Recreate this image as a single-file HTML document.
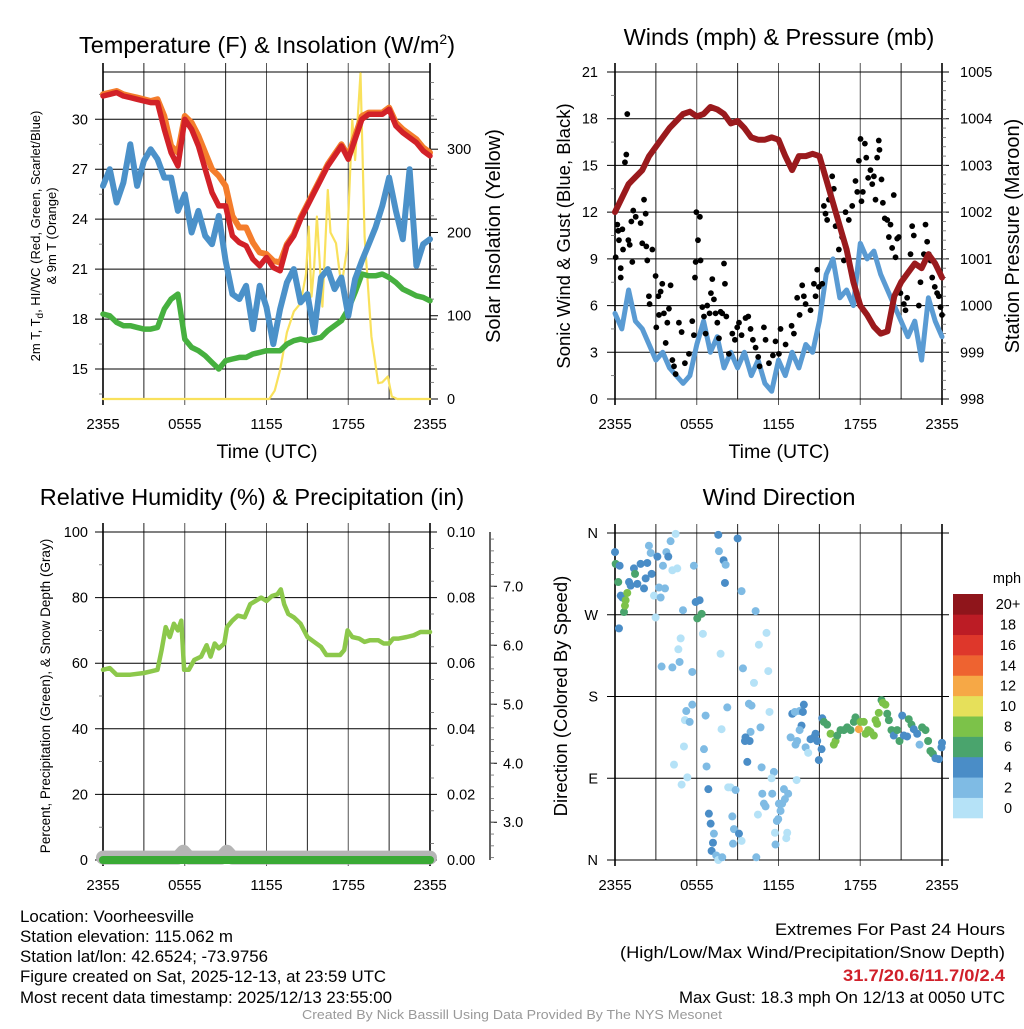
<!DOCTYPE html>
<html><head><meta charset="utf-8"><title>Mesonet Meteogram - Voorheesville</title>
<style>
html,body{margin:0;padding:0;background:#fff;}
body{width:1024px;height:1024px;overflow:hidden;font-family:"Liberation Sans",Arial,sans-serif;}
svg text{font-family:"Liberation Sans",Arial,sans-serif;}
</style></head>
<body>
<svg id="svg" width="1024" height="1024" viewBox="0 0 1024 1024" xmlns="http://www.w3.org/2000/svg">
<rect x="0" y="0" width="1024" height="1024" fill="#fff"/>
<g id="g-tl"></g>
<g id="g-tr"></g>
<g id="g-bl"></g>
<g id="g-br"></g>
<g font-size="17" fill="#000">
<text x="20" y="922" textLength="174" lengthAdjust="spacingAndGlyphs">Location: Voorheesville</text>
<text x="20" y="942" textLength="213" lengthAdjust="spacingAndGlyphs">Station elevation: 115.062 m</text>
<text x="20" y="962" textLength="248" lengthAdjust="spacingAndGlyphs">Station lat/lon: 42.6524; -73.9756</text>
<text x="20" y="982" textLength="366" lengthAdjust="spacingAndGlyphs">Figure created on Sat, 2025-12-13, at 23:59 UTC</text>
<text x="20" y="1003" textLength="372" lengthAdjust="spacingAndGlyphs">Most recent data timestamp: 2025/12/13 23:55:00</text>
<text x="775" y="935" textLength="230" lengthAdjust="spacingAndGlyphs">Extremes For Past 24 Hours</text>
<text x="620" y="958" textLength="385" lengthAdjust="spacingAndGlyphs">(High/Low/Max Wind/Precipitation/Snow Depth)</text>
<text x="843" y="981" textLength="162" lengthAdjust="spacingAndGlyphs" fill="#d0202a" font-weight="bold">31.7/20.6/11.7/0/2.4</text>
<text x="679" y="1003" textLength="326" lengthAdjust="spacingAndGlyphs">Max Gust: 18.3 mph On 12/13 at 0050 UTC</text>
<text x="302" y="1019" font-size="13" textLength="420" lengthAdjust="spacingAndGlyphs" fill="#999">Created By Nick Bassill Using Data Provided By The NYS Mesonet</text>
</g>
</svg>
<script>
// ---------- DATA ----------
const xTickLabels = ["2355","0555","1155","1755","2355"];
const halfHours = [0,0.5,1,1.5,2,2.5,3,3.5,4,4.5,5,5.5,6,6.5,7,7.5,8,8.5,9,9.5,10,10.5,11,11.5,12,12.5,13,13.5,14,14.5,15,15.5,16,16.5,17,17.5,18,18.5,19,19.5,20,20.5,21,21.5,22,22.5,23,23.5,24];
const tempRed = [31.4,31.5,31.6,31.4,31.3,31.2,31.1,31.0,31.0,29.4,28.0,27.2,30.0,29.4,28.4,27.0,25.6,24.8,24.8,23.0,22.6,22.4,21.6,21.2,21.7,21.1,20.9,22.4,23.0,24.0,24.8,25.6,26.4,27.2,27.8,28.4,27.6,28.8,30.0,30.3,30.3,30.3,30.6,29.6,29.2,28.9,28.6,28.1,27.8];
const tempOrange = [31.5,31.6,31.7,31.5,31.4,31.3,31.2,31.1,31.2,30.2,28.4,28.0,30.2,29.8,29.0,28.0,27.0,26.6,26.0,24.2,23.5,23.5,22.6,22.0,21.9,21.5,21.4,22.5,23.1,24.1,24.9,25.7,26.5,27.3,27.9,28.5,27.8,29.0,30.2,30.4,30.4,30.4,30.7,29.8,29.4,29.1,28.8,28.3,28.0];
const tempBlue = [26.0,27.0,25.0,26.2,28.5,26.0,27.5,28.2,27.6,26.5,26.5,24.5,25.5,23.2,24.5,23.0,22.5,24.2,21.5,19.5,19.2,20.0,17.4,20.0,18.7,16.5,18.6,20.2,21.0,19.0,19.5,17.2,20.5,21.0,19.8,20.5,18.2,20.4,21.5,22.5,23.5,24.8,26.5,24.5,22.8,27.0,21.2,22.5,22.8];
const tempGreen = [18.3,18.2,17.8,17.6,17.6,17.5,17.4,17.4,17.5,18.6,19.2,19.5,16.8,16.3,16.1,15.8,15.4,15.0,15.5,15.6,15.7,15.7,15.9,16.0,16.1,16.1,16.1,16.5,16.7,16.8,16.7,16.8,16.9,17.3,17.6,17.9,18.6,19.6,20.7,20.6,20.6,20.7,20.5,20.2,19.8,19.6,19.4,19.3,19.1];
const insolHours = [0,12.2,12.6,13,13.5,14,14.5,14.9,15.1,15.3,15.5,15.7,16.1,16.5,16.7,17.1,17.5,17.9,18.3,18.5,18.9,19.2,19.7,20.2,20.5,20.9,21.2,21.6,24];
const insolValues = [0,0,10,35,80,105,115,150,207,123,160,219,111,251,200,187,135,179,335,287,391,195,75,19,20,27,3,0,0];
const tempTicks = [15,18,21,24,27,30];
const insolTicks = [0,100,200,300];

const windBlue = [5.5,4.5,7,5,4.5,3.5,2.5,3,2,1.5,1,1.5,3.5,5,3,4,2,3,2,3,1.5,2.5,1,0.5,2.5,1.5,3,2,3.5,3,5,8,9,6.5,7,6,10,9,9.5,8,7,6,5,4,5,2.5,6.5,5,4];
const pressure = [1002.0,1002.3,1002.6,1002.75,1002.9,1003.2,1003.4,1003.6,1003.8,1003.95,1004.1,1004.15,1004.05,1004.1,1004.25,1004.2,1004.1,1003.9,1003.95,1003.8,1003.6,1003.55,1003.55,1003.6,1003.55,1003.2,1002.9,1003.2,1003.2,1003.25,1003.2,1002.7,1002.2,1001.7,1001.2,1000.5,1000.0,999.8,999.55,999.4,999.45,1000.2,1000.5,1000.7,1000.9,1000.8,1001.1,1000.9,1000.6];
const gustHours = [0.05,0.17,0.24,0.29,0.42,0.42,0.54,0.59,0.73,0.83,0.90,0.98,1.08,1.20,1.27,1.34,1.52,1.88,2.00,2.13,2.25,2.30,2.37,2.49,2.54,2.74,2.98,3.03,3.18,3.23,3.35,3.47,3.59,3.72,3.84,3.96,4.08,4.21,4.33,4.45,4.69,4.89,5.13,5.43,5.67,5.79,5.87,5.92,5.97,6.09,6.23,6.28,6.41,6.53,6.65,6.77,6.94,7.04,7.14,7.26,7.38,7.51,7.63,7.75,7.87,8.00,8.07,8.17,8.36,8.61,8.80,8.97,9.10,9.29,9.58,9.78,9.95,10.12,10.32,10.51,10.61,10.93,11.05,11.30,11.59,11.78,12.03,12.15,12.52,12.96,13.13,13.37,13.55,13.74,13.86,13.99,14.35,14.60,14.72,14.84,14.96,15.21,15.33,15.45,15.57,15.70,15.82,15.94,16.06,16.19,16.31,16.43,16.67,16.80,16.92,17.16,17.41,17.65,17.78,17.90,18.02,18.09,18.19,18.34,18.44,18.58,18.75,18.88,19.00,19.12,19.24,19.36,19.41,19.56,19.66,19.80,19.98,20.10,20.22,20.34,20.46,20.59,20.71,20.83,20.95,21.20,21.32,21.44,21.69,21.81,21.93,22.30,22.42,22.67,22.79,22.91,23.03,23.15,23.28,23.47,23.64,23.77,23.89,24.00];
const gustValues = [9.1,11.2,10.8,10.2,8.4,7.8,10.9,9.6,15.2,15.7,18.3,10.2,9.9,11.4,8.8,12.1,11.7,11.3,10,12.8,11.9,9.8,8.9,6.6,6.1,9.6,7.9,4.6,6.6,5.4,6.9,7.4,5.5,3.6,4.9,5.8,7.3,2.5,2.1,1.6,4.9,4.3,2.3,2.9,5.0,4.1,7.8,8.8,12,10.2,11.7,8.9,5.9,5.3,4.2,6.0,5.5,6.8,7.7,6.4,5.5,4.9,3.9,5.6,5.5,8.7,7.4,5.3,2.9,4.2,3.8,4.6,4.9,4.1,5.2,5.3,4.5,3.8,3.3,2.7,2.1,4.6,3.8,2.3,2.8,3.7,2.9,4.5,3.5,4.7,4.2,6.5,5.4,7.3,6.6,6.1,5.7,7.4,6.6,8.3,7.2,7.4,12.4,11.9,11.5,12.8,13.2,14.3,13.5,11.1,11.7,9.6,10.4,8.9,12.0,11.5,12.4,14.0,13.3,15.3,16.7,12.7,13.3,16.4,15.5,14.2,14.7,13.8,14.3,12.8,15.5,16.6,16.0,14.1,12.6,11.6,11.5,10.4,11.2,9.7,13.1,9.1,10.3,10.4,6.8,6.1,5.7,6.5,9.3,11.1,10.5,6.0,7.5,9.3,11.2,10.1,9.3,8.9,7.8,7.2,6.8,6.6,5.9,5.4];
const windTicks = [0,3,6,9,12,15,18,21];
const pressTicks = [998,999,1000,1001,1002,1003,1004,1005];

const rhHours = [0,0.5,1,2,3,3.5,4,4.3,4.6,4.9,5.2,5.5,5.75,5.95,6.3,6.7,7.2,7.6,7.9,8.2,8.5,8.9,9.1,9.5,9.9,10.4,10.8,11.2,11.6,12,12.4,12.8,13.05,13.3,13.6,14,14.5,15,15.5,16,16.4,16.8,17.4,17.7,17.95,18.3,18.8,19.2,19.6,20.2,20.6,21,21.3,21.7,22.3,22.8,23.3,24];
const rhValues = [58,58.5,56.5,56.5,57,57.5,58,64,71,68,72,70,73,58,58,61,62,65.5,62,66,64.5,66,71,73,74.5,74,78,79,80,79,80.5,81,82.5,78,75,74,72,68,66.5,65,62.5,62.5,62.5,64,70,68,67.5,66.5,67,67,66,66,67.5,67.5,68,68.5,69.5,69.5];
const precipHours = [0,24];
const precipValues = [0,0];
const snowHours = [0,5.5,5.9,6.3,8.7,9.1,9.5,24];
const snowValues = [2.4,2.4,2.5,2.4,2.4,2.5,2.4,2.4];
const rhTicks = [0,20,40,60,80,100];
const precipTicks = ["0.00","0.02","0.04","0.06","0.08","0.10"];
const snowTicks = ["3.0","4.0","5.0","6.0","7.0"];

const dirHours = [0.00,0.05,0.24,0.34,0.42,0.54,0.66,0.73,0.78,0.90,0.29,1.03,1.15,1.39,1.47,1.64,1.88,2.13,2.25,2.37,2.49,2.62,2.69,2.86,2.98,3.11,3.23,3.35,3.52,3.67,3.77,3.91,4.08,4.21,4.45,4.57,4.82,4.65,4.74,3.42,4.21,4.99,5.67,5.79,5.92,6.04,6.21,6.36,6.45,5.67,5.23,5.13,5.48,5.06,4.33,5.31,4.89,6.65,6.53,6.72,6.85,6.89,7.02,7.26,7.19,7.09,7.43,7.58,7.87,7.75,7.82,8.24,7.58,7.63,7.97,8.12,8.07,9.00,9.29,10.32,9.39,10.20,10.56,11.12,11.25,9.83,10.02,9.95,9.58,9.54,9.88,9.71,10.68,10.76,11.34,11.66,11.49,8.31,8.48,8.85,8.61,8.73,9.10,9.29,8.66,10.81,10.93,11.05,10.49,11.54,12.03,12.15,12.40,12.71,12.47,12.27,11.98,11.88,11.74,12.64,12.57,11.78,10.37,13.33,13.01,13.20,13.55,13.86,13.79,13.69,13.55,12.89,13.37,13.25,13.99,14.18,14.35,14.60,14.72,14.84,15.21,15.16,14.96,15.33,15.57,15.82,16.06,16.19,16.31,16.55,16.80,17.04,17.29,17.53,17.65,17.90,18.02,18.26,18.39,18.58,18.75,19.00,19.12,19.24,19.36,19.56,19.66,19.85,19.98,20.10,20.29,20.46,20.71,20.88,21.08,21.20,21.44,21.56,21.76,21.93,22.18,22.35,22.54,22.79,22.98,23.15,23.33,23.52,23.77,23.96,24.00];
const dirDegrees = [339,326,306,324,291,289,273,280,286,294,255,306,302,321,315,304,326,299,310,327,346,338,315,291,267,334,300,289,324,299,339,334,351,319,359,321,244,232,218,213,212,275,207,324,284,266,286,271,249,171,164,154,152,125,105,91,83,159,122,103,78,51,40,29,19,10,5,0,3,227,144,168,358,340,330,325,305,354,296,274,211,195,237,250,208,172,170,141,135,131,131,108,146,102,163,97,90,80,80,77,48,34,29,21,18,73,62,59,50,73,62,54,78,73,67,62,45,43,30,30,24,17,3,88,161,163,164,171,163,148,143,135,131,127,124,118,133,135,139,131,156,122,110,152,149,139,127,131,137,143,143,146,143,152,157,144,152,152,139,143,141,137,154,150,162,176,173,171,161,154,143,137,143,131,159,137,136,155,149,144,139,127,146,143,131,120,117,112,111,124,129];
const dirSpeeds = [5,7,7,5,5,5,7,9,9,9,5,5,5,5,7,5,5,5,5,5,3,3,5,1,1,5,3,3,3,3,3,5,3,1,1,1,1,1,3,3,3,3,3,3,5,7,5,7,1,3,3,1,3,1,1,1,1,3,3,3,5,5,5,3,5,5,3,1,3,1,1,3,5,3,5,3,5,5,3,3,3,1,1,1,1,3,3,3,5,5,5,5,3,3,1,3,1,1,1,3,3,3,5,1,3,3,3,3,1,3,3,3,3,3,3,3,3,3,1,1,1,3,3,1,5,3,3,5,5,5,3,3,3,3,3,1,5,5,5,5,5,5,5,7,7,9,9,9,7,7,7,7,7,7,7,13,9,9,9,9,9,9,9,9,9,7,9,9,7,7,7,5,7,7,5,5,5,7,7,5,5,3,7,7,7,7,7,5,5,5,5];
const dirTickLabels = ["N","E","S","W","N"];
const dirTickDegrees = [0,90,180,270,360];
const speedBinLabels = ["0","2","4","6","8","10","12","14","16","18","20+"];
const speedBinColors = ["#b5e2f7","#7fbbe4","#4a8dc7","#4aa46d","#7cc249","#e6e05a","#f6a846","#ee6330","#de372b","#bc1c25","#8f151b"];

// ---------- HELPERS ----------
const NS = "http://www.w3.org/2000/svg";
function mk(parent, tag, attrs) {
  const e = document.createElementNS(NS, tag);
  for (const k in attrs) e.setAttribute(k, attrs[k]);
  parent.appendChild(e);
  return e;
}
const PL = 103, PR = 430, PW = 327;
function xScale(off) { return function(h) { return off + PL + h / 24 * PW; }; }
function lin(d0, d1, r0, r1) { return function(v) { return r0 + (v - d0) / (d1 - d0) * (r1 - r0); }; }

function drawFrame(g, off, top, bot, name) {
  const xs = xScale(off);
  for (let i = 0; i <= 8; i++) {
    const x = xs(i * 3);
    const l = mk(g, "line", {x1: x, x2: x, y1: top - 9, y2: bot + (i % 2 === 0 ? 6 : 0), stroke: (i === 0 || i === 8) ? "#000" : (i % 2 ? "#222" : "#555"), "stroke-width": (i === 0 || i === 8) ? 1.6 : 1});
    
    
  }
  for (let i = 0; i < xTickLabels.length; i++) {
    const t = mk(g, "text", {x: xs(i * 6), y: bot + 30, "text-anchor": "middle", "font-size": 15});
    t.textContent = xTickLabels[i];
    
    
  }
}
function hGrid(g, off, y, name) {
  const l = mk(g, "line", {x1: off + 95, x2: off + 437, y1: y, y2: y, stroke: "#000", "stroke-width": 1});
  
  
}
function tickLabel(g, x, y, txt, anchor, size, name) {
  const t = mk(g, "text", {x: x, y: y + 5, "text-anchor": anchor, "font-size": size || 14.5});
  t.textContent = txt;
  
  
}
function minor(g, x1, x2, y) {
  const l = mk(g, "line", {x1: x1, x2: x2, y1: y, y2: y, stroke: "#666", "stroke-width": 0.8});
  
  
}
function line(g, xs, ys, hours, vals, color, w, name) {
  const pts = hours.map((h, i) => xs(h).toFixed(1) + "," + ys(vals[i]).toFixed(1)).join(" ");
  const p = mk(g, "polyline", {points: pts, fill: "none", stroke: color, "stroke-width": w, "stroke-linejoin": "round", "stroke-linecap": "round"});
  
  
  return p;
}
function title(g, x, y, txt, size, name, rot) {
  const t = mk(g, "text", {x: x, y: y, "text-anchor": "middle", "font-size": size});
  if (rot) t.setAttribute("transform", "rotate(-90 " + x + " " + y + ")");
  t.innerHTML = txt;
  
  
  return t;
}

// ---------- PANEL TL ----------
(function() {
  const g = document.getElementById("g-tl");
  const top = 72, bot = 399;
  const xs = xScale(0);
  const yT = lin(13.2, 32.84, bot, top);
  const yI = lin(0, 392.7, bot, top);
  drawFrame(g, 0, top, bot, "temp");
  mk(g, "line", {x1: PL, x2: PR, y1: top, y2: top, stroke: "#000"});
  mk(g, "line", {x1: PL, x2: PR, y1: bot, y2: bot, stroke: "#000"});
  tempTicks.forEach(v => { hGrid(g, 0, yT(v), "temp-grid"); tickLabel(g, 88, yT(v), String(v), "end", 14.5, "temp-tick-label"); });
  for (let v = 13.5; v < 32.8; v += 1.5) if (tempTicks.indexOf(v) < 0) minor(g, 99, 103, yT(v));
  insolTicks.forEach(v => { mk(g, "line", {x1: PR, x2: 438, y1: yI(v), y2: yI(v), stroke: "#000"}); tickLabel(g, 447, yI(v), String(v), "start", 14.5, "insolation-tick-label"); });
  for (let v = 20; v < 392; v += 20) if (v % 100) minor(g, PR, 434, yI(v));
  line(g, xs, yI, insolHours, insolValues, "#f9e15c", 2.2, "insolation-line");
  line(g, xs, yT, halfHours, tempGreen, "#46b03f", 5.5, "dewpoint-line");
  line(g, xs, yT, halfHours, tempBlue, "#4b91c9", 6, "windchill-line");
  line(g, xs, yT, halfHours, tempOrange, "#f47d2c", 6, "temp-9m-line");
  line(g, xs, yT, halfHours, tempRed, "#d22128", 5.5, "temp-2m-line");
  title(g, 267, 53, 'Temperature (F) &amp; Insolation (W/m<tspan dy="-9" font-size="14">2</tspan><tspan dy="9">)</tspan>', 23.5, "temp-title");
  title(g, 267, 458, "Time (UTC)", 19.5, "temp-x-title");
  title(g, 40, 236, "2m T, T<tspan font-size='10' dy='3'>d</tspan><tspan dy='-3'>, HI/WC (Red, Green, Scarlet/Blue)</tspan>", 13, "temp-y-title", true);
  title(g, 56, 236, "&amp; 9m T (Orange)", 13, "temp-y-title-2", true);
  title(g, 500, 236, "Solar Insolation (Yellow)", 20, "insolation-y-title", true);
})();

// ---------- PANEL TR ----------
(function() {
  const g = document.getElementById("g-tr");
  const off = 512, top = 72, bot = 399;
  const xs = xScale(off);
  const yW = lin(0, 21, bot, top);
  const yP = lin(998, 1005, bot, top);
  drawFrame(g, off, top, bot, "wind");
  windTicks.forEach(v => { hGrid(g, off, yW(v), "wind-grid"); tickLabel(g, 598, yW(v), String(v), "end", 14.5, "wind-tick-label"); });
  for (let v = 1.5; v < 21; v += 3) minor(g, 611, 615, yW(v));
  pressTicks.forEach(v => tickLabel(g, 960, yP(v), String(v), "start", 14.5, "pressure-tick-label"));
  for (let v = 998.2; v < 1005; v += 0.2) minor(g, off + PR, off + PR + 4, yP(v));
  line(g, xs, yW, halfHours, windBlue, "#5a9bd3", 5, "sonic-wind-line");
  gustHours.forEach((h, i) => {
    const c = mk(g, "circle", {cx: xs(h), cy: yW(gustValues[i]), r: 2.9, fill: "#000"});
    
    
  });
  line(g, xs, yP, halfHours, pressure, "#9a1a1d", 6, "pressure-line");
  title(g, 779, 45, "Winds (mph) &amp; Pressure (mb)", 23.5, "wind-title");
  title(g, 779, 458, "Time (UTC)", 19.5, "wind-x-title");
  title(g, 570, 236, "Sonic Wind &amp; Gust (Blue, Black)", 18.5, "wind-y-title", true);
  title(g, 1019, 236, "Station Pressure (Maroon)", 20, "pressure-y-title", true);
})();

// ---------- PANEL BL ----------
(function() {
  const g = document.getElementById("g-bl");
  const top = 532, bot = 860;
  const xs = xScale(0);
  const yR = lin(0, 100, bot, top);
  const yS = lin(2.36, 7.92, bot, top);
  drawFrame(g, 0, top, bot, "rh");
  rhTicks.forEach(v => { hGrid(g, 0, yR(v), "rh-grid"); tickLabel(g, 88, yR(v), String(v), "end", 14.5, "rh-tick-label"); });
  for (let v = 10; v < 100; v += 20) minor(g, 99, 103, yR(v));
  precipTicks.forEach((t, i) => tickLabel(g, 447, yR(i * 20), t, "start", 14.5, "precip-tick-label"));
  for (let v = 5; v < 100; v += 10) minor(g, PR, 434, yR(v));
  mk(g, "line", {x1: 490, x2: 490, y1: top, y2: bot, stroke: "#000", "stroke-width": 1.2});
  snowTicks.forEach(t => { const v = parseFloat(t); mk(g, "line", {x1: 490, x2: 497, y1: yS(v), y2: yS(v), stroke: "#000"}); tickLabel(g, 503, yS(v), t, "start", 14.5, "snow-tick-label"); });
  for (let v = 2.4; v < 7.9; v += 0.2) minor(g, 490, 494, yS(v));
  line(g, xs, yR, rhHours, rhValues, "#8cc84b", 4.5, "rh-line");
  line(g, xs, yS, snowHours, snowValues, "#b5b5b5", 14, "snow-depth-line");
  line(g, xs, yR, precipHours, precipValues, "#3aaa35", 8, "precip-line");
  title(g, 252, 505, "Relative Humidity (%) &amp; Precipitation (in)", 23.5, "rh-title");
  title(g, 50, 696, "Percent, Precipitation (Green), &amp; Snow Depth (Gray)", 13.5, "rh-y-title", true);
})();

// ---------- PANEL BR ----------
(function() {
  const g = document.getElementById("g-br");
  const off = 512, top = 533, bot = 860;
  const xs = xScale(off);
  const yD = lin(0, 360, bot, top);
  drawFrame(g, off, top, bot, "dir");
  dirTickDegrees.forEach((v, i) => { hGrid(g, off, yD(v), "dir-grid"); tickLabel(g, 598, yD(v), dirTickLabels[i], "end", 14.5, "dir-tick-label"); });
  function colorFor(s) { let b = Math.floor(s / 2); if (b > 10) b = 10; return speedBinColors[b]; }
  dirHours.forEach((h, i) => {
    const c = mk(g, "circle", {cx: xs(h), cy: yD(dirDegrees[i]), r: 4, fill: colorFor(dirSpeeds[i])});
    
    
  });
  const cb0 = 594, cb1 = 818, seg = (cb1 - cb0) / speedBinColors.length;
  speedBinColors.forEach((col, i) => {
    const y = cb1 - (i + 1) * seg;
    const r = mk(g, "rect", {x: 953, y: y, width: 30, height: seg + 0.3, fill: col});
    
    
    tickLabel(g, 1008, y + seg / 2, speedBinLabels[i], "middle", 14.5, "colorbar-label");
  });
  tickLabel(g, 1007, 578, "mph", "middle", 14.5, "colorbar-title");
  title(g, 779, 505, "Wind Direction", 23.5, "dir-title");
  title(g, 567, 696, "Direction (Colored By Speed)", 18.5, "dir-y-title", true);
})();
</script>
</body></html>
